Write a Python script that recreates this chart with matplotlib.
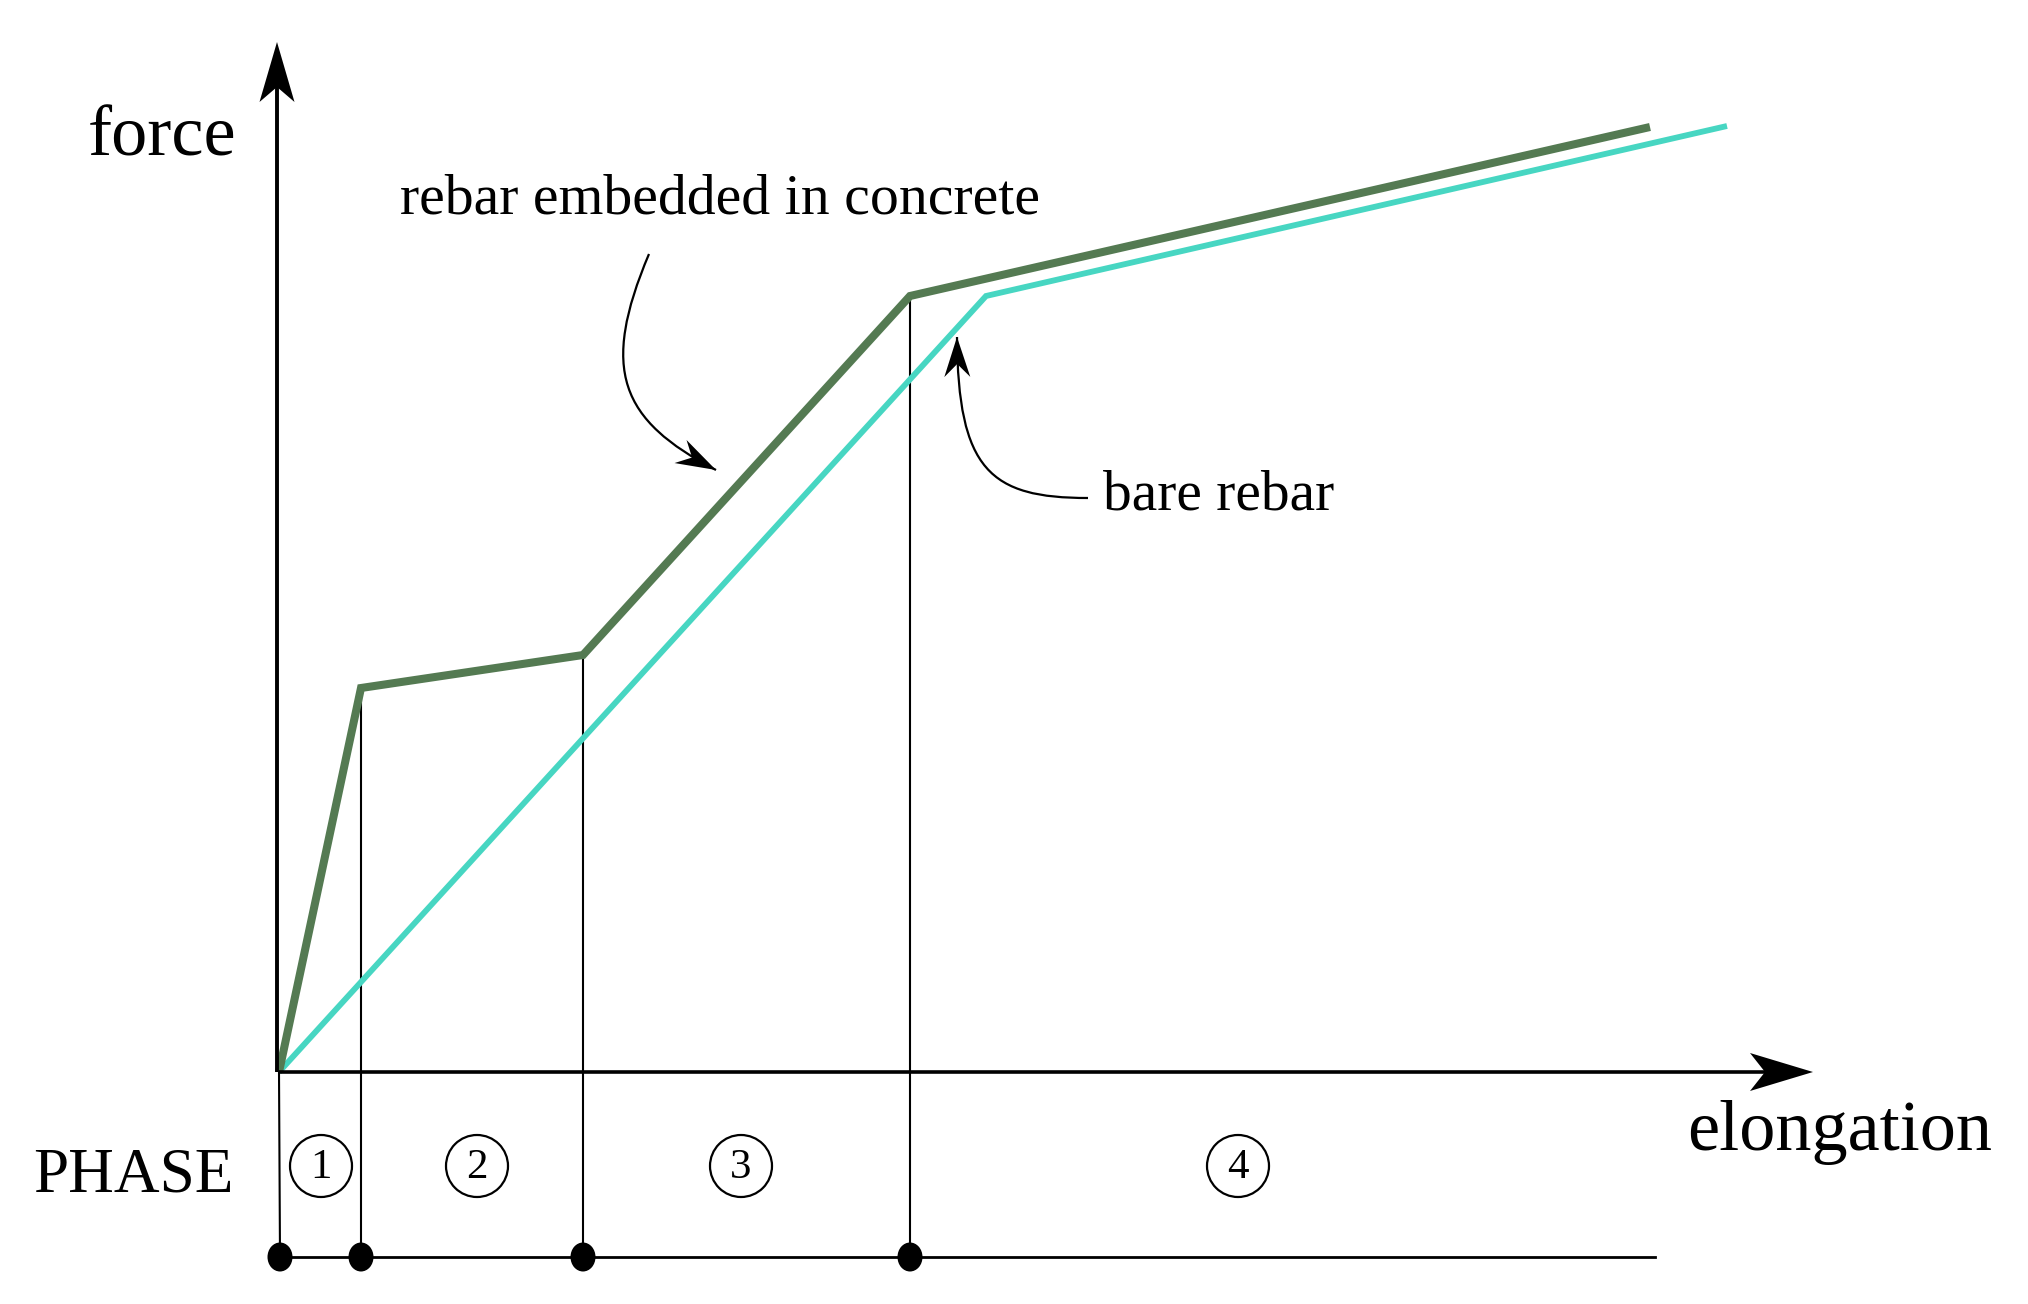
import numpy as np
import matplotlib
matplotlib.use("Agg")
import matplotlib.pyplot as plt
from matplotlib.patches import Polygon, Circle, Ellipse, PathPatch
from matplotlib.path import Path

plt.rcParams['font.family'] = ['Liberation Serif', 'DejaVu Serif']

# chart values (elongation, force), origin at the axis corner
embedded_elong = [0, 82, 304, 631, 1371]
embedded_force = [0, 384, 417, 776, 945]
bare_elong = [0, 707, 1448]
bare_force = [0, 776, 946]

# phase boundaries on the elongation axis
phase_bounds = [0, 82, 304, 631]
phase_tops = [0, 384, 417, 776]
phase_labels = ['1', '2', '3', '4']
phase_label_x = [42, 198, 462, 959]

GREEN = '#547a52'
CYAN = '#47d6c2'


def arrow_head(ax, tip, direction, length, half_w, notch, color='black'):
    d = np.array(direction, dtype=float)
    d = d / np.hypot(*d)
    n = np.array([-d[1], d[0]])
    tip = np.array(tip, dtype=float)
    pts = [tip,
           tip - length * d + half_w * n,
           tip - notch * d,
           tip - length * d - half_w * n]
    ax.add_patch(Polygon(pts, closed=True, facecolor=color, edgecolor='none', zorder=6))


def curved_pointer(ax, p0, p1, p2, p3):
    path = Path([p0, p1, p2, p3], [Path.MOVETO, Path.CURVE4, Path.CURVE4, Path.CURVE4])
    ax.add_patch(PathPatch(path, facecolor='none', edgecolor='black', lw=1.6, zorder=5))
    d = np.array(p3) - np.array(p2)
    arrow_head(ax, p3, d, 40, 13, 27)


fig = plt.figure(figsize=(20.28, 13.04), dpi=100)
ax = fig.add_axes([0, 0, 1, 1])
ax.set_xlim(-279, 1749)
ax.set_ylim(-232, 1072)
ax.axis('off')

# axes with arrows
ax.plot([0, 1534 - 48], [0, 0], color='black', lw=2.6, solid_capstyle='butt', zorder=4)
arrow_head(ax, (1534, 0), (1, 0), 63, 19, 48)
ax.plot([-2, -2], [0, 1030 - 45], color='black', lw=2.8, solid_capstyle='butt', zorder=4)
arrow_head(ax, (-2, 1030), (0, 1), 60, 17.5, 45)

# phase boundaries
dot_level = -185
ax.plot([0, 1], [0, dot_level], color='black', lw=1.5, zorder=2)
for xb, top in zip(phase_bounds[1:], phase_tops[1:]):
    ax.plot([xb, xb], [top, dot_level], color='black', lw=1.5, zorder=2)
ax.plot([1, 1376], [dot_level, dot_level], color='black', lw=2.0, zorder=2)
for xb in [1] + phase_bounds[1:]:
    ax.add_patch(Ellipse((xb, dot_level), 25, 29, facecolor='black', edgecolor='none', zorder=6))

for lab, xc in zip(phase_labels, phase_label_x):
    ax.add_patch(Circle((xc, -94), 31, facecolor='none', edgecolor='black', lw=1.6, zorder=5))
    ax.text(xc, -96, lab, fontsize=31, ha='center', va='center', zorder=6)

# curves
ax.plot(bare_elong, bare_force, color=CYAN, lw=4.2, solid_joinstyle='miter',
        solid_capstyle='butt', zorder=3)
ax.plot(embedded_elong, embedded_force, color=GREEN, lw=5.8, solid_joinstyle='miter',
        solid_capstyle='butt', zorder=3)

# labels
ax.text(-191, 917, 'force', fontsize=52, ha='left', va='baseline')
ax.text(1408, -78, 'elongation', fontsize=52, ha='left', va='baseline')
ax.text(-246, -120, 'PHASE', fontsize=45.5, ha='left', va='baseline')
ax.text(121, 859, 'rebar embedded in concrete', fontsize=41.6, ha='left', va='baseline')
ax.text(824, 562, 'bare rebar', fontsize=41.3, ha='left', va='baseline')

# pointers
curved_pointer(ax, (370, 818), (321, 702), (341, 652), (437, 602))
curved_pointer(ax, (809, 574), (711, 574), (679, 602), (678, 735))

fig.savefig('out.png', dpi=100, facecolor='white')
